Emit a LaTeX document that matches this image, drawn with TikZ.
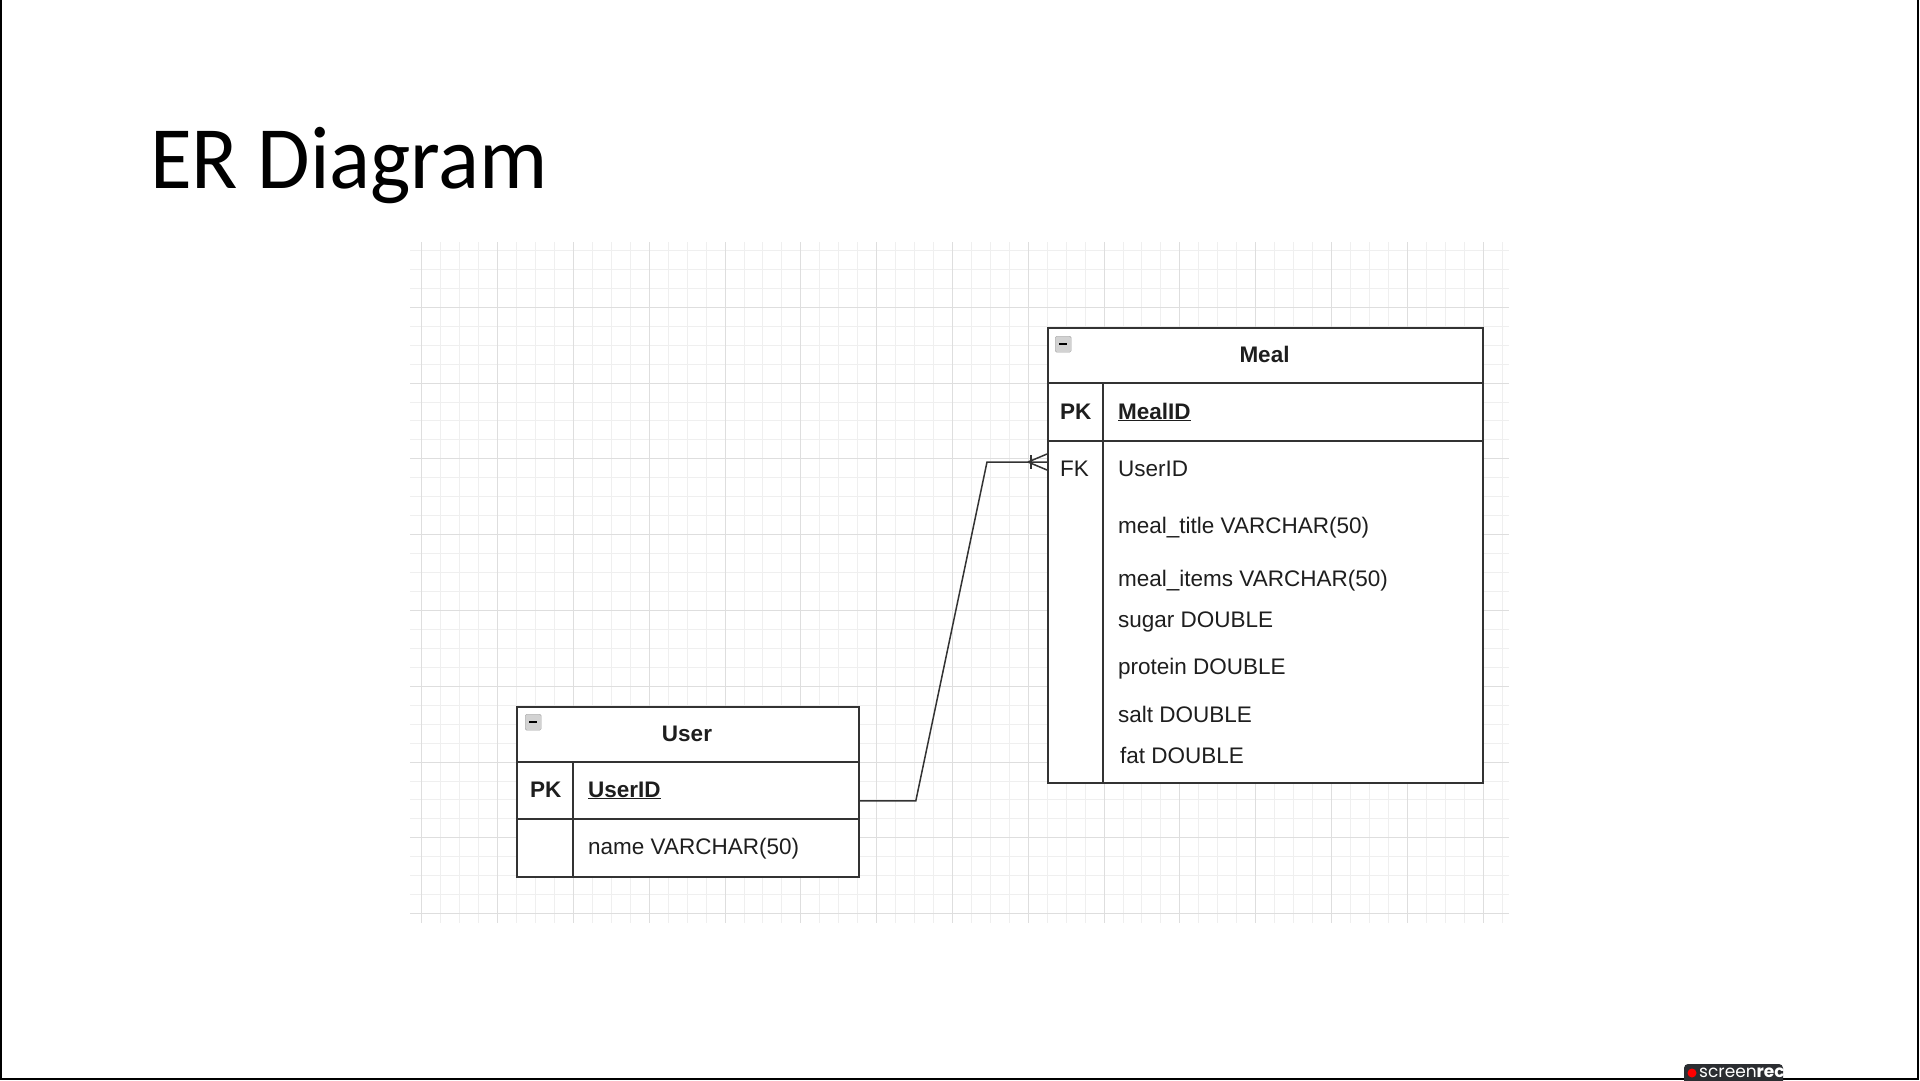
\documentclass[tikz,border=0pt]{standalone}
\usepackage{fontspec}
\setmainfont{Liberation Sans}
\newfontfamily\titlefont{Carlito}
\newfontfamily\recfont{Poppins}
\usetikzlibrary{calc}
\definecolor{linec}{HTML}{333333}
\definecolor{txt}{HTML}{1E1E1E}
\definecolor{gmajor}{HTML}{DEDEDE}
\definecolor{gminor}{HTML}{EFEFEF}
\definecolor{badge}{HTML}{2B2D31}
\begin{document}
\begin{tikzpicture}[x=1bp,y=-1bp,
  tbl/.style={draw=linec, line width=1.8bp, fill=white, rectangle, inner sep=0pt, anchor=north west},
  sep/.style={draw=linec, line width=1.8bp},
  hdr/.style={font=\fontsize{22.5bp}{27bp}\selectfont\bfseries, text=txt, anchor=base, inner sep=0pt},
  fld/.style={font=\fontsize{22.5bp}{27bp}\selectfont, text=txt, anchor=base west, inner sep=0pt},
  keyf/.style={font=\fontsize{22.5bp}{27bp}\selectfont\bfseries, text=txt, anchor=base west, inner sep=0pt},
  minusicon/.style={draw=gray!70, fill=gray!35, rounded corners=1.5bp, minimum width=16bp, minimum height=16bp, inner sep=0pt, anchor=north west},
  conn/.style={draw=linec, line width=1.5bp},
  minorl/.style={draw=gminor, line width=1bp},
  majorl/.style={draw=gmajor, line width=1.5bp}]
\useasboundingbox (0,0) rectangle (1920,1080);
\fill[white] (0,0) rectangle (1920,1080);

% grid
\foreach \k in {0,...,57} {
  \pgfmathsetmacro\xx{round(421.4+\k*18.95)+0.5}
  \draw[minorl] (\xx,242) -- (\xx,923);
}
\foreach \k in {1,...,36} {
  \pgfmathsetmacro\yy{round(231+\k*18.95)+0.5}
  \draw[minorl] (410,\yy) -- (1509,\yy);
}
\foreach \k in {0,...,14} {
  \pgfmathsetmacro\xx{round(421.4+\k*75.8)+0.5}
  \draw[majorl] (\xx,242) -- (\xx,923);
}
\foreach \k in {1,...,9} {
  \pgfmathsetmacro\yy{round(231+\k*75.8)+0.5}
  \draw[majorl] (410,\yy) -- (1509,\yy);
}

% slide border
\draw[black, line width=2bp] (1,0) -- (1,1079) -- (1918,1079) -- (1918,0);

% title
\node[anchor=base west, inner sep=0pt, font=\titlefont\fontsize{89bp}{95bp}\selectfont] (title) at (150,188) {\scalebox{0.96}[1]{ER Diagram}};

% Meal table
\node[tbl, minimum width=435bp, minimum height=455bp] (meal) at (1047,327) {};
\draw[sep] (1047,383) -- (1482,383);
\draw[sep] (1047,441) -- (1482,441);
\draw[sep] (1103,383) -- (1103,782);
\node[minusicon] (mealicon) at (1055,336) {};
\draw[black, line width=2bp] (1059,344) -- (1067,344);
\node[hdr] (mealname) at (1264.5,362) {Meal};
\node[keyf] (mealpk) at (1060,419) {PK};
\node[keyf] (mealid) at (1118,419) {\underline{MealID}};
\node[fld] (mealfk) at (1060,476) {FK};
\node[fld] (mealuid) at (1118,476) {UserID};
\node[fld] (mtitle) at (1118,533) {meal\_title VARCHAR(50)};
\node[fld] (mitems) at (1118,586) {meal\_items VARCHAR(50)};
\node[fld] (msugar) at (1118,627) {sugar DOUBLE};
\node[fld] (mprot) at (1118,674) {protein DOUBLE};
\node[fld] (msalt) at (1118,722) {salt DOUBLE};
\node[fld] (mfat) at (1120,763) {fat DOUBLE};

% User table
\node[tbl, minimum width=342bp, minimum height=170bp] (user) at (516,706) {};
\draw[sep] (516,762) -- (858,762);
\draw[sep] (516,819) -- (858,819);
\draw[sep] (573,762) -- (573,876);
\node[minusicon] (usericon) at (525,714) {};
\draw[black, line width=2bp] (529,722) -- (537,722);
\node[hdr] (username) at (687,741) {User};
\node[keyf] (userpk) at (530,797) {PK};
\node[keyf] (userid) at (588,797) {\underline{UserID}};
\node[fld] (uname) at (588,854) {name VARCHAR(50)};

% connector
\coordinate (ustart) at ($(user.east)+(0,9)$);
\coordinate (mend) at ($(meal.north west)+(0,135)$);
\draw[conn] (ustart) -- ++(56,0) -- ($(mend)+(-60,0)$) -- (mend);
\draw[conn] ($(mend)+(-19,0)$) -- ($(mend)+(0,-8)$);
\draw[conn] ($(mend)+(-19,0)$) -- ($(mend)+(0,8)$);
\draw[conn] ($(mend)+(-16,-7)$) -- ($(mend)+(-16,7)$);

% screenrec badge
\fill[badge, rounded corners=4bp] (1684,1064) rectangle (1783,1086);
\fill[red] (1692,1073) circle (4.5bp);
\node[anchor=base west, inner sep=0pt, text=white, font=\recfont\fontsize{17bp}{18bp}\selectfont] (rec) at (1699,1077) {screen\textbf{rec}};
\end{tikzpicture}
\end{document}
